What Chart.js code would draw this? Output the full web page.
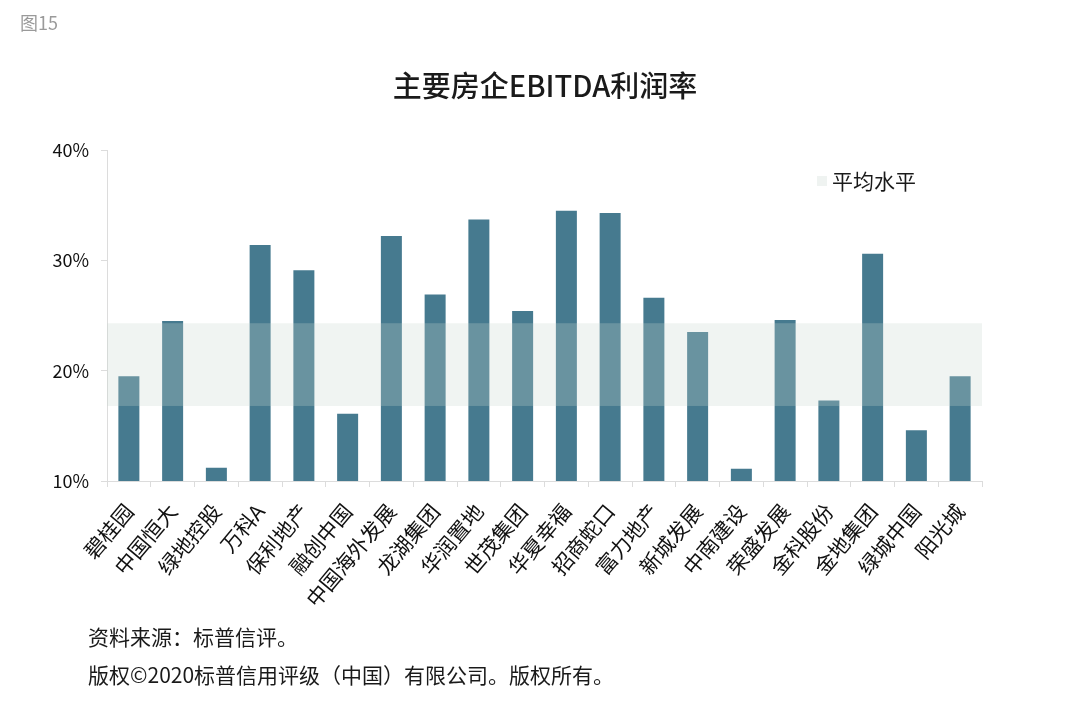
<!DOCTYPE html>
<html><head><meta charset="utf-8">
<script src="https://cdn.jsdelivr.net/npm/chart.js@4.4.0/dist/chart.umd.min.js"></script>
<style>
body{margin:0;width:1080px;height:705px;background:#fff;position:relative;overflow:hidden;font-family:"Noto Sans CJK SC",sans-serif;}
#fig{position:absolute;left:20px;top:13px;font-size:18px;line-height:1;color:#9a9a9a;}
#title{position:absolute;left:0;width:1090px;top:70px;text-align:center;font-size:29px;line-height:1;color:#1a1a1a;font-weight:500;}
.foot{position:absolute;left:88px;font-size:21px;line-height:1;color:#1a1a1a;}
#wrap{position:absolute;left:0;top:0;width:1080px;height:705px;}
</style>
</head><body>
<div id="wrap"><canvas id="c" width="1080" height="705"></canvas></div>
<div id="fig">图15</div>
<div id="title">主要房企EBITDA利润率</div>
<div class="foot" style="top:626px">资料来源：标普信评。</div>
<div class="foot" style="top:664px">版权©2020标普信用评级（中国）有限公司。版权所有。</div>
<script>
const categories = ["碧桂园","中国恒大","绿地控股","万科A","保利地产","融创中国","中国海外发展","龙湖集团","华润置地","世茂集团","华夏幸福","招商蛇口","富力地产","新城发展","中南建设","荣盛发展","金科股份","金地集团","绿城中国","阳光城"];
const ebitdaMargin = [19.5,24.5,11.2,31.4,29.1,16.1,32.2,26.9,33.7,25.4,34.5,34.3,26.6,23.5,11.1,24.6,17.3,30.6,14.6,19.5];
const bandUpper = 24.3;
const bandLower = 16.8;
const bandLabel = "平均水平";
const yTicks = [10,20,30,40];

const bandPlugin = {
  id:'band',
  afterDatasetsDraw(chart){
    const {ctx, chartArea, scales:{y}} = chart;
    const t = y.getPixelForValue(bandUpper), b = y.getPixelForValue(bandLower);
    ctx.save();
    ctx.fillStyle = 'rgba(200,214,207,0.27)';
    ctx.fillRect(chartArea.left, t, chartArea.right - chartArea.left, b - t);
    // legend
    const lx = chartArea.right - 165, ly = chartArea.top + 31;
    ctx.fillStyle = '#eff3f1';
    ctx.fillRect(lx, ly - 5, 10, 10);
    ctx.fillStyle = '#1a1a1a';
    ctx.font = '21px "Noto Sans CJK SC"';
    ctx.textBaseline = 'middle';
    ctx.fillText(bandLabel, lx + 15, ly);
    ctx.restore();
  }
};

new Chart(document.getElementById('c'), {
  type:'bar',
  data:{labels:categories, datasets:[{data:ebitdaMargin, backgroundColor:'#467a8f', barPercentage:0.48, categoryPercentage:1}]},
  options:{
    responsive:false, animation:false,
    layout:{padding:{top:150,right:98,left:0,bottom:0}},
    plugins:{legend:{display:false}, tooltip:{enabled:false}},
    scales:{
      y:{min:10,max:40,
        afterBuildTicks(s){ s.ticks = yTicks.map(v=>({value:v})); },
        afterFit(s){ s.width = 107; },
        ticks:{callback:v=>v+'%', font:{size:18,family:'"Noto Sans CJK SC"'}, color:'#111', padding:12},
        grid:{drawOnChartArea:false, color:'#dcdcdc', tickLength:6},
        border:{color:'#dcdcdc'}
      },
      x:{
        afterFit(s){ s.height = 224; },
        ticks:{maxRotation:50, minRotation:50, autoSkip:false, font:{size:21,family:'"Noto Sans CJK SC"'}, color:'#111', padding:12},
        grid:{offset:true, drawOnChartArea:false, color:'#dcdcdc', tickLength:6},
        border:{color:'#dcdcdc'}
      }
    }
  },
  plugins:[bandPlugin]
});
</script>
</body></html>
